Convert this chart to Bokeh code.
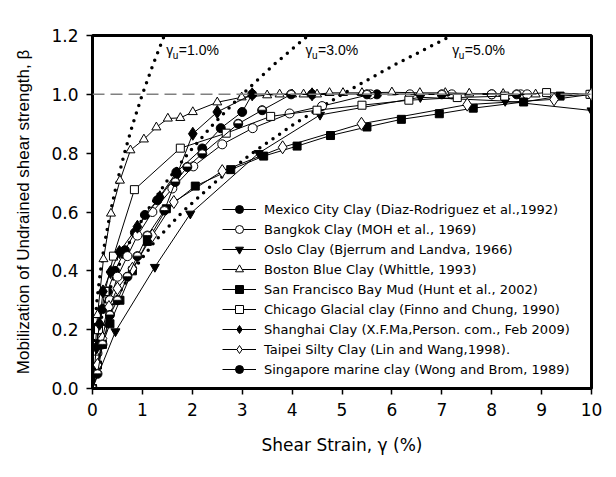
import math
from bokeh.plotting import figure
from bokeh.models import Range1d, Span, Label, Legend, LegendItem, FixedTicker, NumeralTickFormatter
from bokeh.embed import file_html
from bokeh.resources import INLINE

# ---------------- data ----------------
mexico_x = [0, 0.06, 0.12, 0.2, 0.3, 0.45, 0.65, 0.85, 1.05, 1.3, 1.68, 2.2, 2.57, 3.0, 3.2, 4.4, 5.7, 8.0]
mexico_y = [0, 0.12, 0.2, 0.27, 0.33, 0.4, 0.47, 0.53, 0.59, 0.64, 0.735, 0.816, 0.885, 0.94, 1.0, 1.0, 1.0, 1.0]

bangkok_x = [0, 0.1, 0.2, 0.35, 0.5, 0.7, 0.9, 1.2, 1.6, 2.02, 2.6, 3.21, 3.95, 4.6, 5.57, 6.36, 7.2, 8.0, 8.58, 8.71]
bangkok_y = [0, 0.12, 0.2, 0.3, 0.38, 0.45, 0.52, 0.6, 0.68, 0.755, 0.83, 0.885, 0.935, 0.96, 1.0, 1.0, 1.0, 1.0, 1.0, 1.0]

oslo_x = [0, 0.46, 1.25, 1.96, 3.33, 4.56, 6.57, 8.27, 10.0]
oslo_y = [0, 0.194, 0.413, 0.594, 0.80, 0.93, 0.99, 0.977, 0.945]

boston_x = [0, 0.05, 0.1, 0.22, 0.37, 0.55, 0.76, 1.03, 1.28, 1.51, 1.76, 2.01, 2.5, 2.99, 3.5, 3.75, 4.0, 4.23, 4.5, 4.75, 5.02, 5.4, 6.0, 6.56, 7.07, 7.55, 8.23, 8.88]
boston_y = [0, 0.12, 0.25, 0.44, 0.595, 0.707, 0.81, 0.847, 0.888, 0.918, 0.92, 0.94, 0.973, 0.99, 0.997, 1.0, 1.0, 1.0, 1.0, 1.005, 1.005, 1.005, 1.007, 1.005, 1.005, 1.003, 1.002, 1.0]

sf_x = [0, 0.1, 0.2, 0.35, 0.55, 0.8, 1.1, 1.48, 2.06, 2.77, 3.43, 4.1, 4.77, 5.5, 6.19, 6.95, 7.63, 8.64, 9.37, 10.0]
sf_y = [0, 0.08, 0.15, 0.22, 0.3, 0.4, 0.5, 0.611, 0.688, 0.744, 0.79, 0.824, 0.86, 0.889, 0.915, 0.934, 0.953, 0.974, 0.994, 1.0]

chicago_x = [0, 0.05, 0.12, 0.25, 0.42, 0.84, 1.76, 2.68, 3.57, 4.5, 5.4, 6.34, 7.31, 8.26, 9.1, 9.97]
chicago_y = [0, 0.1, 0.2, 0.33, 0.45, 0.676, 0.817, 0.868, 0.925, 0.946, 0.963, 0.98, 0.989, 0.994, 1.006, 1.0]

shanghai_x = [0, 0.03, 0.08, 0.14, 0.21, 0.36, 0.54, 0.9, 1.35, 1.7, 2.01, 2.5, 3.2, 4.4]
shanghai_y = [0, 0.06, 0.14, 0.22, 0.33, 0.396, 0.464, 0.55, 0.65, 0.73, 0.866, 0.94, 1.0, 1.0]

taipei_x = [0, 0.1, 0.2, 0.33, 0.5, 0.8, 1.2, 1.63, 2.6, 3.81, 5.39, 7.51, 9.25, 10.0]
taipei_y = [0, 0.08, 0.17, 0.277, 0.34, 0.407, 0.52, 0.634, 0.739, 0.82, 0.9, 0.965, 0.983, 1.0]

singapore_x = [0, 0.1, 0.2, 0.35, 0.5, 0.7, 0.9, 1.1, 1.44, 1.66, 1.9, 2.2, 2.92, 3.4, 3.98, 5.5, 7.0, 8.5]
singapore_y = [0, 0.05, 0.15, 0.25, 0.3, 0.38, 0.45, 0.52, 0.605, 0.702, 0.753, 0.798, 0.9, 0.946, 1.0, 1.0, 1.0, 1.0]

# reference curves (dotted)
ref_beta = [0, 0.1, 0.2, 0.3, 0.4, 0.5, 0.6, 0.7, 0.8, 0.9, 1.0, 1.1, 1.2]
ref1_x = [0, 0.01, 0.04, 0.09, 0.16, 0.25, 0.36, 0.49, 0.64, 0.81, 1.0, 1.21, 1.44]
ref3_x = [0, 0.03, 0.12, 0.27, 0.48, 0.75, 1.08, 1.47, 1.92, 2.43, 3.0, 3.63, 4.32]
ref5_x = [0, 0.05, 0.2, 0.45, 0.8, 1.25, 1.8, 2.45, 3.2, 4.05, 5.0, 6.05, 7.2]
ref_labels = ["=1.0%", "=3.0%", "=5.0%"]
ref_label_x = [1.48, 4.27, 7.21]

x_ticks = [0, 1, 2, 3, 4, 5, 6, 7, 8, 9, 10]
y_ticks = [0.0, 0.2, 0.4, 0.6, 0.8, 1.0, 1.2]

names = [
    "Mexico City Clay (Diaz-Rodriguez et al.,1992)",
    "Bangkok Clay (MOH et al., 1969)",
    "Oslo Clay (Bjerrum and Landva, 1966)",
    "Boston Blue Clay (Whittle, 1993)",
    "San Francisco Bay Mud (Hunt et al., 2002)",
    "Chicago Glacial clay (Finno and Chung, 1990)",
    "Shanghai Clay (X.F.Ma,Person. com., Feb 2009)",
    "Taipei Silty Clay (Lin and Wang,1998).",
    "Singapore marine clay (Wong and Brom, 1989)",
]

FONT = "Liberation Sans"
WIDE = "DejaVu Sans"

p = figure(width=614, height=475, output_backend="svg", toolbar_location=None,
           x_range=Range1d(0, 10), y_range=Range1d(0, 1.2),
           min_border_left=92, min_border_right=23, min_border_top=35, min_border_bottom=87)
p.background_fill_color = "white"
p.border_fill_color = "white"
p.xgrid.visible = False
p.ygrid.visible = False
p.outline_line_color = "black"
p.outline_line_width = 3

p.xaxis.ticker = FixedTicker(ticks=x_ticks)
p.yaxis.ticker = FixedTicker(ticks=y_ticks)
p.yaxis.formatter = NumeralTickFormatter(format="0.0")
for ax in (p.xaxis[0], p.yaxis[0]):
    ax.axis_line_width = 3
    ax.axis_line_color = "black"
    ax.major_tick_line_width = 1.5
    ax.major_tick_out = 6
    ax.major_tick_in = 0
    ax.minor_tick_out = 0
    ax.minor_tick_in = 0
    ax.major_label_text_font = WIDE
    ax.major_label_text_font_size = "17px"
    ax.major_label_text_color = "black"
    ax.axis_label_text_font_style = "normal"
    ax.axis_label_text_color = "black"
p.xaxis.axis_label_text_font = WIDE
p.xaxis.axis_label_text_font_size = "17px"
p.yaxis.axis_label_text_font = FONT
p.yaxis.axis_label_text_font_size = "17px"
p.xaxis.major_label_standoff = 8
p.yaxis.major_label_standoff = 8
p.xaxis.axis_label = "Shear Strain, γ (%)"
p.yaxis.axis_label = "Mobilization of Undrained shear strength, β"
p.xaxis.axis_label_standoff = 16
p.yaxis.axis_label_standoff = 15

# dashed line at beta = 1.0
p.add_layout(Span(location=1.0, dimension="width", line_color="#808080",
                  line_width=1.5, line_dash="12 6"))

# dotted reference curves
for rx in (ref1_x, ref3_x, ref5_x):
    p.line(rx, ref_beta, line_color="black", line_width=3.5, line_dash="0 8", line_cap="round")

for lx, txt in zip(ref_label_x, ref_labels):
    p.add_layout(Label(x=lx, y=1.15, text="γ", text_font=FONT, text_font_size="14px",
                       text_baseline="middle", text_color="black"))
    p.add_layout(Label(x=lx, y=1.15, x_offset=6.5, y_offset=-5, text="u", text_font=FONT,
                       text_font_size="10px", text_baseline="middle", text_color="black"))
    p.add_layout(Label(x=lx, y=1.15, x_offset=12.5, text=txt, text_font=FONT,
                       text_font_size="14px", text_baseline="middle", text_color="black"))

series = [
    (mexico_x, mexico_y, "circle", "black"),
    (bangkok_x, bangkok_y, "circle", "white"),
    (oslo_x, oslo_y, "inverted_triangle", "black"),
    (boston_x, boston_y, "triangle", "white"),
    (sf_x, sf_y, "square", "black"),
    (chicago_x, chicago_y, "square", "white"),
    (shanghai_x, shanghai_y, "diamond", "black"),
    (taipei_x, taipei_y, "diamond", "white"),
    (singapore_x, singapore_y, "circle", "black"),
]
sizes = {"circle": 9, "inverted_triangle": 9, "triangle": 9, "square": 8, "diamond": 13}

items = []
for (xs, ys, mk, fc), name in zip(series, names):
    r1 = p.line(xs, ys, line_color="black", line_width=1)
    r2 = p.scatter(xs, ys, marker=mk, size=sizes[mk], fill_color=fc, line_color="black", line_width=1)
    if name.startswith("Singapore"):
        # white upper half of the half-filled circle marker
        p.wedge(xs, ys, radius=4, radius_units="screen", start_angle=0,
                end_angle=math.pi, fill_color="white", line_color="black", line_width=0.8)
    items.append(LegendItem(label=name, renderers=[r1, r2]))

legend = Legend(items=items, location=(130, 9), border_line_color=None,
                background_fill_alpha=0, padding=0, margin=0, spacing=0,
                glyph_width=34, glyph_height=20, label_height=20, label_standoff=8,
                label_text_font=WIDE, label_text_font_size="13px", label_text_color="black")
p.add_layout(legend, "center")

open("out.html", "w").write(file_html(p, INLINE))
